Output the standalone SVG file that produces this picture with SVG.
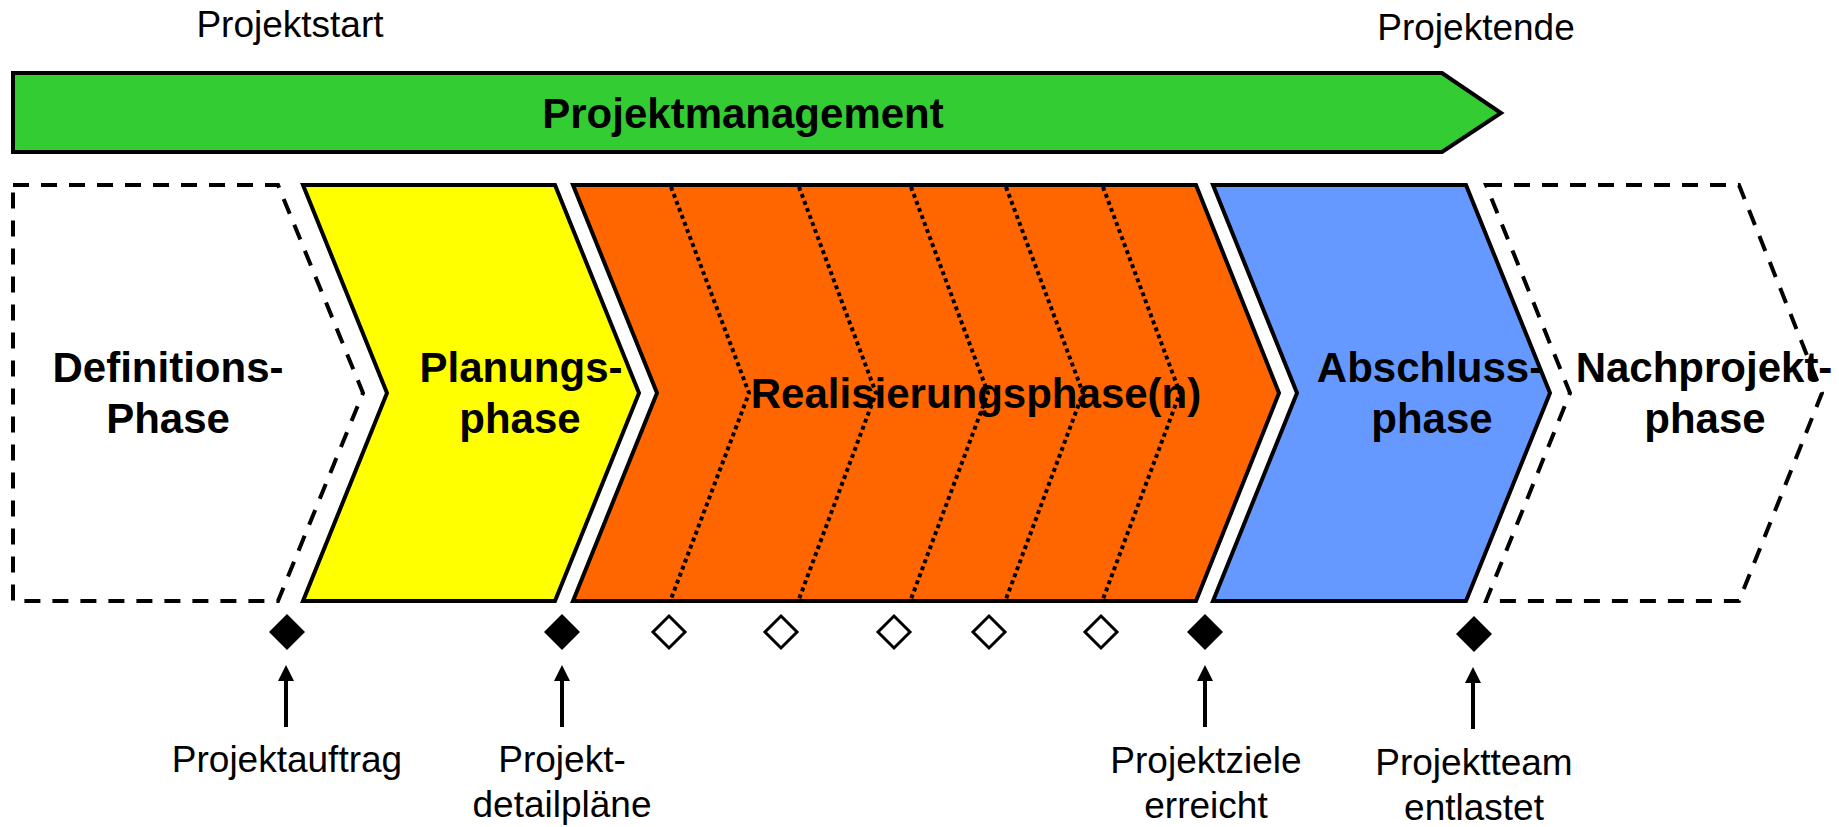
<svg xmlns="http://www.w3.org/2000/svg" width="1839" height="827" viewBox="0 0 1839 827">
  <defs>
    <style>
      .lbl { font-family: "Liberation Sans", Arial, sans-serif; font-size: 37px; fill: #000; text-anchor: middle; }
      .phase-lbl { font-family: "Liberation Sans", Arial, sans-serif; font-size: 42px; font-weight: bold; fill: #000; text-anchor: middle; }
      .solid { stroke: #000; stroke-width: 4; stroke-linejoin: miter; }
      .dashed { fill: #fff; stroke: #000; stroke-width: 4; stroke-dasharray: 16 12; }
      .dotted { fill: none; stroke: #000; stroke-width: 4; stroke-dasharray: 4 3.5; }
      .ms-done { fill: #000; stroke: none; }
      .ms-step { fill: #fff; stroke: #000; stroke-width: 3; }
      .conn { stroke: #000; stroke-width: 4; fill: none; }
    </style>
    <marker id="arrowhead" markerUnits="userSpaceOnUse" markerWidth="16" markerHeight="16" refX="0" refY="8" orient="auto">
      <path d="M0,0 L16,8 L0,16 z" fill="#000"/>
    </marker>
  </defs>

  <rect width="1839" height="827" fill="#fff"/>

  <!-- start / end markers above the bar -->
  <g id="label-start"><text class="lbl" x="290" y="37">Projektstart</text></g>
  <g id="label-end"><text class="lbl" x="1476" y="40">Projektende</text></g>

  <!-- project management bar -->
  <g id="pm-bar">
    <polygon class="solid" fill="#33CC33" points="13,73 1442,73 1501,113 1442,152 13,152"/>
    <text class="phase-lbl" x="743" y="128">Projektmanagement</text>
  </g>

  <!-- phases -->
  <g id="phase-definition">
    <polygon class="dashed" points="13,185 278,185 363,393 278,601 13,601"/>
    <text class="phase-lbl" x="168" y="382">Definitions-</text>
    <text class="phase-lbl" x="168" y="433">Phase</text>
  </g>

  <g id="phase-planning">
    <polygon class="solid" fill="#FFFF00" points="303,185 555,185 639,393 555,601 303,601 387,393"/>
    <text class="phase-lbl" x="521" y="382">Planungs-</text>
    <text class="phase-lbl" x="520" y="433">phase</text>
  </g>

  <g id="phase-realisation">
    <polygon class="solid" fill="#FF6600" points="573,185 1196,185 1279,393 1196,601 573,601 657,393"/>
    <polyline class="dotted" points="671,187 749,393 671,599"/>
    <polyline class="dotted" points="799,187 876,393 799,599"/>
    <polyline class="dotted" points="911,187 988,393 911,599"/>
    <polyline class="dotted" points="1006,187 1083,393 1006,599"/>
    <polyline class="dotted" points="1103,187 1180,393 1103,599"/>
    <text class="phase-lbl" x="976" y="408">Realisierungsphase(n)</text>
  </g>

  <g id="phase-closing">
    <polygon class="solid" fill="#6699FF" points="1213,185 1466,185 1550,393 1466,601 1213,601 1297,393"/>
    <text class="phase-lbl" x="1430" y="382">Abschluss-</text>
    <text class="phase-lbl" x="1432" y="433">phase</text>
  </g>

  <g id="phase-post">
    <polygon class="dashed" fill="none" points="1486,185 1739,185 1822,393 1739,601 1486,601 1570,393"/>
    <text class="phase-lbl" x="1704" y="382">Nachprojekt-</text>
    <text class="phase-lbl" x="1705" y="433">phase</text>
  </g>

  <!-- milestones -->
  <g id="milestone-order"><polygon class="ms-done" points="287,614 305,632 287,650 269,632"/></g>
  <g id="milestone-plans"><polygon class="ms-done" points="562,614 580,632 562,650 544,632"/></g>
  <g id="milestone-step-1"><polygon class="ms-step" points="669,616 685,632 669,648 653,632"/></g>
  <g id="milestone-step-2"><polygon class="ms-step" points="781,616 797,632 781,648 765,632"/></g>
  <g id="milestone-step-3"><polygon class="ms-step" points="894,616 910,632 894,648 878,632"/></g>
  <g id="milestone-step-4"><polygon class="ms-step" points="989,616 1005,632 989,648 973,632"/></g>
  <g id="milestone-step-5"><polygon class="ms-step" points="1101,616 1117,632 1101,648 1085,632"/></g>
  <g id="milestone-goals"><polygon class="ms-done" points="1205,614 1223,632 1205,650 1187,632"/></g>
  <g id="milestone-release"><polygon class="ms-done" points="1474,616 1492,634 1474,652 1456,634"/></g>

  <!-- milestone labels -->
  <g id="label-order"><text class="lbl" x="287" y="772">Projektauftrag</text></g>
  <g id="label-plans">
    <text class="lbl" x="562" y="772">Projekt-</text>
    <text class="lbl" x="562" y="817">detailpläne</text>
  </g>
  <g id="label-goals">
    <text class="lbl" x="1206" y="773">Projektziele</text>
    <text class="lbl" x="1206" y="818">erreicht</text>
  </g>
  <g id="label-release">
    <text class="lbl" x="1474" y="775">Projektteam</text>
    <text class="lbl" x="1474" y="820">entlastet</text>
  </g>

  <!-- arrows from labels to milestones -->
  <g id="connectors">
    <line class="conn" x1="286" y1="727" x2="286" y2="681" marker-end="url(#arrowhead)"/>
    <line class="conn" x1="562" y1="727" x2="562" y2="681" marker-end="url(#arrowhead)"/>
    <line class="conn" x1="1205" y1="727" x2="1205" y2="681" marker-end="url(#arrowhead)"/>
    <line class="conn" x1="1473" y1="729" x2="1473" y2="683" marker-end="url(#arrowhead)"/>
  </g>
</svg>
